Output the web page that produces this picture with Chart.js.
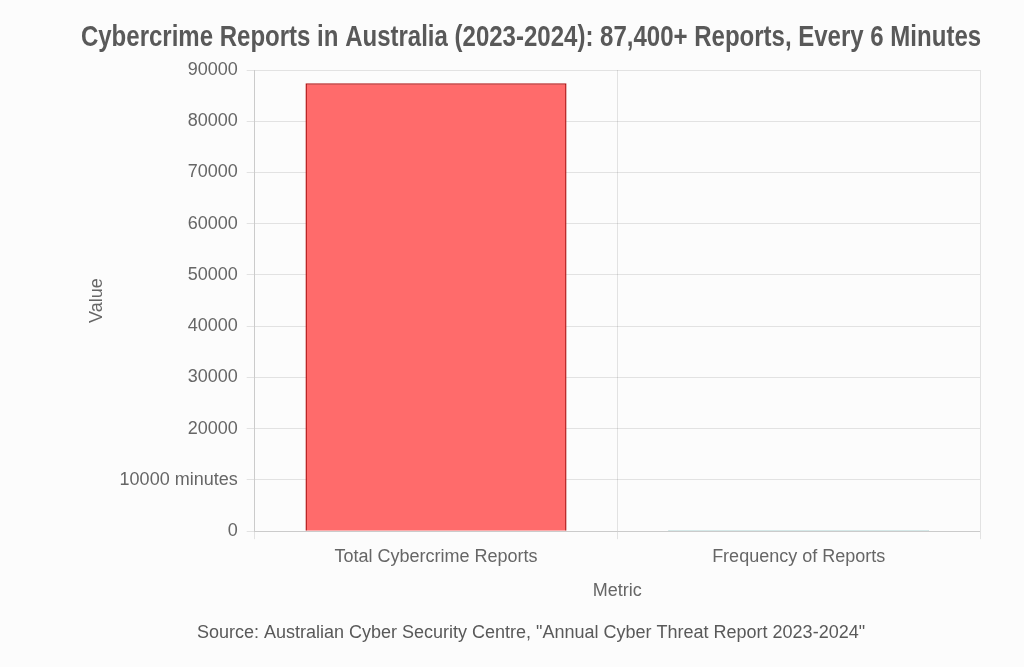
<!DOCTYPE html>
<html>
<head>
<meta charset="utf-8">
<script src="https://cdn.jsdelivr.net/npm/chart.js@4/dist/chart.umd.min.js"></script>
<style>
  html, body { margin: 0; padding: 0; background: #fcfcfc; }
  #wrap { width: 1024px; height: 667px; }
</style>
</head>
<body>
<div id="wrap"><canvas id="cyberChart"></canvas></div>
<script>
const chartTitle = 'Cybercrime Reports in Australia (2023-2024): 87,400+ Reports, Every 6 Minutes';
const sourceNote = 'Source: Australian Cyber Security Centre, "Annual Cyber Threat Report 2023-2024"';
const categories = ["Total Cybercrime Reports", "Frequency of Reports"];
const values = [87400, 6];
const barColors = ["rgba(255, 107, 107, 1)", "rgba(75, 170, 170, 0.8)"];
const barBorders = ["rgba(180, 25, 25, 1)", "rgba(75, 160, 160, 1)"];

var ctx = document.getElementById("cyberChart");
if (ctx) {
  // no narrow font installed, so squeeze a bold sans a bit
  const narrowTitle = {
    id: 'narrowTitle',
    afterDraw(chart) {
      const { ctx } = chart;
      ctx.save();
      ctx.font = 'bold 29px "Liberation Sans", Arial, sans-serif';
      ctx.fillStyle = '#595959';
      ctx.textAlign = 'center';
      ctx.textBaseline = 'alphabetic';
      ctx.translate(531, 46);
      ctx.scale(0.828, 1);
      ctx.fillText(chartTitle, 0, 0);
      ctx.restore();
    }
  };

  var cyberChart = new Chart(ctx, {
    type: 'bar',
    data: {
      labels: categories,
      datasets: [
        {
          label: "Value",
          data: values,
          backgroundColor: barColors,
          borderColor: barBorders,
          borderWidth: 1.5,
          minBarLength: 1
        }
      ]
    },
    options: {
      responsive: true,
      maintainAspectRatio: false,
      animation: false,
      layout: {
        padding: { left: 82, right: 44, top: 70, bottom: 23 }
      },
      plugins: {
        legend: { display: false },
        title: { display: false },
        subtitle: {
          display: true,
          position: 'bottom',
          text: sourceNote,
          color: '#595959',
          font: { size: 18 },
          padding: { top: 17, bottom: 0 }
        }
      },
      scales: {
        x: {
          title: {
            display: true,
            text: 'Metric',
            color: '#666',
            font: { size: 18 },
            padding: { top: 5, bottom: 4 }
          },
          ticks: { color: '#666', font: { size: 18 }, padding: 7 }
        },
        y: {
          beginAtZero: true,
          max: 90000,
          title: {
            display: true,
            text: 'Value',
            color: '#666',
            font: { size: 18 },
            padding: { top: 4, bottom: 3 }
          },
          ticks: {
            stepSize: 10000,
            color: '#666',
            font: { size: 18 },
            padding: 9,
            callback: function (v) { return v === 10000 ? v + ' minutes' : v; }
          }
        }
      }
    },
    plugins: [narrowTitle]
  });
}
</script>
</body>
</html>
